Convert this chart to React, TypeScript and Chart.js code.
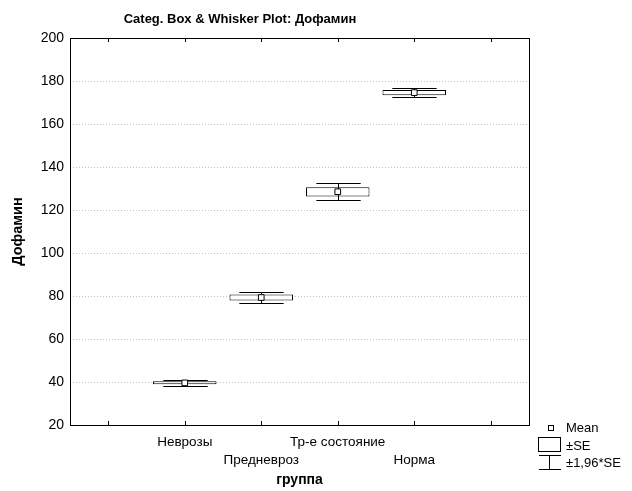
import React, { useEffect, useRef } from 'react';
import { Chart, registerables } from 'chart.js';

Chart.register(...registerables);

const categories = ['', 'Неврозы', 'Предневроз', 'Тр-е состояние', 'Норма', ''];
const means = [null, 39.6, 79.3, 128.5, 174.6, null];
const seLow = [null, 38.9, 77.9, 126.3, 173.4, null];
const seHigh = [null, 40.3, 80.7, 130.6, 175.8, null];
const ciLow = [null, 38.2, 76.6, 124.6, 172.5, null];
const ciHigh = [null, 41.0, 82.0, 132.4, 176.7, null];
const yTicks = [20, 40, 60, 80, 100, 120, 140, 160, 180, 200];
const legendLabels = ['Mean', '±SE', '±1,96*SE'];
const titleParts = ['Categ. Box & Whisker Plot: ', 'Дофамин'];
const yTitle = 'Дофамин';
const xTitle = 'группа';

const FONT = "'Liberation Sans', Arial, sans-serif";

const decorPlugin = {
  id: 'decor',
  beforeDatasetDraw(chart: any, args: any) {
    if (args.index !== 0) return;
    const x = chart.scales.x;
    const y = chart.scales.y;
    const ctx = chart.ctx;
    const slot = x.getPixelForValue(1) - x.getPixelForValue(0);
    const half = slot * 0.29;
    ctx.save();
    ctx.strokeStyle = '#000';
    ctx.lineWidth = 1;
    for (let i = 0; i < categories.length; i++) {
      if (ciLow[i] == null) continue;
      const cx = Math.round(x.getPixelForValue(i)) + 0.5;
      const yl = Math.round(y.getPixelForValue(ciLow[i])) + 0.5;
      const yh = Math.round(y.getPixelForValue(ciHigh[i])) + 0.5;
      ctx.beginPath();
      ctx.moveTo(cx, yl);
      ctx.lineTo(cx, yh);
      ctx.moveTo(cx - half, yl);
      ctx.lineTo(cx + half, yl);
      ctx.moveTo(cx - half, yh);
      ctx.lineTo(cx + half, yh);
      ctx.stroke();
    }
    ctx.restore();
  },
  afterDraw(chart: any) {
    const ctx = chart.ctx;
    const a = chart.chartArea;
    const x = chart.scales.x;
    ctx.save();
    ctx.strokeStyle = '#000';
    ctx.lineWidth = 1;
    ctx.strokeRect(Math.round(a.left) + 0.5, Math.round(a.top) + 0.5, Math.round(a.right - a.left), Math.round(a.bottom - a.top));
    ctx.beginPath();
    for (let i = 0; i < categories.length; i++) {
      const px = Math.round(x.getPixelForValue(i)) + 0.5;
      ctx.moveTo(px, a.top);
      ctx.lineTo(px, a.top + 4);
      ctx.moveTo(px, a.bottom);
      ctx.lineTo(px, a.bottom - 4);
    }
    ctx.stroke();

    // title
    ctx.fillStyle = '#000';
    ctx.textBaseline = 'middle';
    ctx.font = `bold 13px ${FONT}`;
    const w0 = ctx.measureText(titleParts[0]).width;
    const w1 = ctx.measureText(titleParts[1]).width;
    const tx = 240 - (w0 + w1) / 2;
    ctx.textAlign = 'left';
    ctx.fillText(titleParts[0], tx, 19);
    ctx.fillText(titleParts[1], tx + w0, 19);

    // legend
    const lx = a.right + 9;
    ctx.font = `13px ${FONT}`;
    ctx.fillStyle = '#fff';
    ctx.fillRect(lx + 10.5, 425.5, 5, 5);
    ctx.strokeRect(lx + 10.5, 425.5, 5, 5);
    ctx.fillStyle = '#000';
    ctx.fillText(legendLabels[0], lx + 28, 428);
    ctx.strokeRect(lx + 0.5, 437.5, 22, 14);
    ctx.fillText(legendLabels[1], lx + 28, 446);
    ctx.beginPath();
    ctx.moveTo(lx + 1, 455.5);
    ctx.lineTo(lx + 23, 455.5);
    ctx.moveTo(lx + 11.5, 455.5);
    ctx.lineTo(lx + 11.5, 469.5);
    ctx.moveTo(lx + 1, 469.5);
    ctx.lineTo(lx + 23, 469.5);
    ctx.stroke();
    ctx.fillText(legendLabels[2], lx + 28, 463);
    ctx.restore();
  },
};

export default function App() {
  const ref = useRef<HTMLCanvasElement | null>(null);
  useEffect(() => {
    if (!ref.current) return;
    const chart = new Chart(ref.current, {
      type: 'bar',
      data: {
        labels: categories,
        datasets: [
          {
            type: 'line',
            data: means as any,
            showLine: false,
            pointStyle: 'rect',
            pointRadius: 4,
            pointBackgroundColor: '#fff',
            pointBorderColor: '#000',
            pointBorderWidth: 1,
          } as any,
          {
            type: 'bar',
            data: seLow.map((l, i) => (l == null ? null : [l, seHigh[i]])) as any,
            backgroundColor: '#fff',
            borderColor: '#000',
            borderWidth: 1,
            borderSkipped: false,
            barPercentage: 0.83,
            categoryPercentage: 1,
          },
        ],
      },
      options: {
        animation: false,
        responsive: false,
        devicePixelRatio: 1,
        layout: { padding: { left: 0, top: 38, right: 103, bottom: 0 } },
        plugins: { legend: { display: false }, tooltip: { enabled: false } },
        scales: {
          x: {
            type: 'category',
            offset: true,
            grid: { display: false, drawTicks: false },
            border: { display: false },
            ticks: {
              color: '#000',
              font: { family: FONT, size: 13.5, lineHeight: 1.35 },
              padding: 8,
              maxRotation: 0,
              autoSkip: false,
              callback: (v: any, i: number) => (i % 2 === 0 && categories[i] ? ['', categories[i]] : categories[i]),
            },
            title: {
              display: true,
              text: xTitle,
              color: '#000',
              font: { family: FONT, size: 14, weight: 'bold' },
              padding: { top: 0, bottom: 2 },
            },
            afterFit: (s: any) => {
              s.height = 66;
            },
          },
          y: {
            min: 20,
            max: 200,
            afterBuildTicks: (s: any) => {
              s.ticks = yTicks.map((v) => ({ value: v }));
            },
            grid: { color: '#c4c4c4', drawTicks: false, lineWidth: 1 },
            border: { display: false, dash: [1, 2] },
            ticks: {
              color: '#000',
              font: { family: FONT, size: 14 },
              padding: 6,
            },
            title: {
              display: true,
              text: yTitle,
              color: '#000',
              font: { family: FONT, size: 14.5, weight: 'bold' },
              padding: { top: 9, bottom: 0 },
            },
            afterFit: (s: any) => {
              s.width = 70;
            },
          },
        },
      },
      plugins: [decorPlugin],
    });
    return () => chart.destroy();
  }, []);
  return (
    <div style={{ position: 'fixed', left: 0, top: 0, width: 632, height: 491, background: '#fff' }}>
      <canvas ref={ref} width={632} height={491} style={{ width: 632, height: 491 }} />
    </div>
  );
}
